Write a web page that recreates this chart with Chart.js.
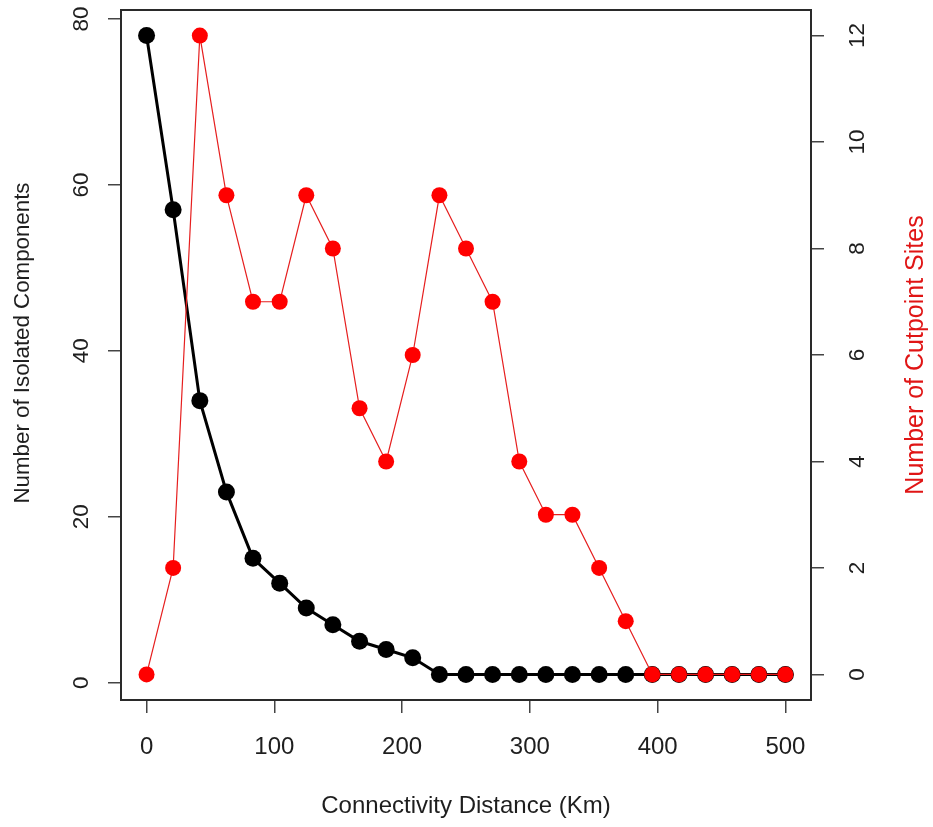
<!DOCTYPE html>
<html>
<head>
<meta charset="utf-8">
<script src="https://cdn.jsdelivr.net/npm/chart.js@4"></script>
<style>
  html, body { margin: 0; padding: 0; background: #fff; }
  #wrap { width: 933px; height: 827px; }
</style>
</head>
<body>
<div id="wrap"><canvas id="netChart" width="933" height="827"></canvas></div>
<script>
// connectivity distance (km) at each step
const distances = [0, 20.8, 41.7, 62.5, 83.3, 104.2, 125, 145.8, 166.7, 187.5, 208.3, 229.2, 250,
                   270.8, 291.7, 312.5, 333.3, 354.2, 375, 395.8, 416.7, 437.5, 458.3, 479.2, 500];
const isolatedComponents = [78, 57, 34, 23, 15, 12, 9, 7, 5, 4, 3, 1, 1, 1, 1, 1, 1, 1, 1, 1, 1, 1, 1, 1, 1];
const cutpointSites = [0, 2, 12, 9, 7, 7, 9, 8, 5, 4, 6, 9, 8, 7, 4, 3, 3, 2, 1, 0, 0, 0, 0, 0, 0];

const xTicks = [0, 100, 200, 300, 400, 500];
const leftTicks = [0, 20, 40, 60, 80];
const rightTicks = [0, 2, 4, 6, 8, 10, 12];

const FONT = '"Liberation Sans", Arial, Helvetica, sans-serif';
const TXT = '#1e1e1e';

const pairs = (ys) => distances.map((d, i) => ({ x: d, y: ys[i] }));
const setTicks = (vals) => (scale) => { scale.ticks = vals.map(v => ({ value: v })); };

// R-style axes: box, rotated y labels, red right-hand title
const baseAxes = {
  id: 'baseAxes',
  afterDraw(chart) {
    const { ctx, chartArea: a, scales } = chart;
    ctx.save();
    ctx.strokeStyle = '#2a2a2a';
    ctx.lineWidth = 2;
    ctx.strokeRect(a.left, a.top, a.right - a.left, a.bottom - a.top);

    ctx.textAlign = 'center';
    ctx.textBaseline = 'middle';
    ctx.fillStyle = TXT;
    ctx.font = '24px ' + FONT;
    scales.x.ticks.forEach(t => ctx.fillText(String(t.value), scales.x.getPixelForValue(t.value), 747));
    ctx.fillText('Connectivity Distance (Km)', (a.left + a.right) / 2, 806);

    const rotated = (txt, x, y, color, size) => {
      ctx.save();
      ctx.translate(x, y);
      ctx.rotate(-Math.PI / 2);
      ctx.font = size + 'px ' + FONT;
      ctx.fillStyle = color;
      ctx.fillText(txt, 0, 0);
      ctx.restore();
    };
    scales.y.ticks.forEach(t => rotated(String(t.value), 82, scales.y.getPixelForValue(t.value), TXT, 22.5));
    scales.y2.ticks.forEach(t => rotated(String(t.value), 858, scales.y2.getPixelForValue(t.value), TXT, 22.5));

    rotated('Number of Isolated Components', 23, 343, TXT, 22.3);
    rotated('Number of Cutpoint Sites', 916, 355, '#e01515', 25);
    ctx.restore();
  }
};

const tickGrid = { drawOnChartArea: false, drawTicks: true, tickLength: 13, color: '#444', lineWidth: 1.5 };

new Chart(document.getElementById('netChart'), {
  type: 'line',
  data: {
    datasets: [
      {
        label: 'Number of Cutpoint Sites',
        data: pairs(cutpointSites),
        yAxisID: 'y2',
        borderColor: '#e61e1e',
        borderWidth: 1.2,
        backgroundColor: '#ff0000',
        pointBackgroundColor: '#ff0000',
        pointBorderWidth: 0,
        pointRadius: 8,
        tension: 0,
        order: 1
      },
      {
        label: 'Number of Isolated Components',
        data: pairs(isolatedComponents),
        yAxisID: 'y',
        borderColor: '#000',
        borderWidth: 3,
        backgroundColor: '#000',
        pointBackgroundColor: '#000',
        pointBorderWidth: 0,
        pointRadius: 8.5,
        tension: 0,
        order: 2
      }
    ]
  },
  options: {
    responsive: false,
    animation: false,
    layout: { padding: { top: 10, left: 0, right: 0, bottom: 0 } },
    plugins: { legend: { display: false }, tooltip: { enabled: false } },
    scales: {
      x: {
        type: 'linear',
        min: -20,
        max: 520,
        afterBuildTicks: setTicks(xTicks),
        afterFit: (s) => { s.height = 127; },
        ticks: { display: false },
        grid: tickGrid,
        border: { display: false }
      },
      y: {
        position: 'left',
        min: -2.08,
        max: 81.08,
        afterBuildTicks: setTicks(leftTicks),
        afterFit: (s) => { s.width = 121; },
        ticks: { display: false },
        grid: tickGrid,
        border: { display: false }
      },
      y2: {
        position: 'right',
        min: -0.48,
        max: 12.48,
        afterBuildTicks: setTicks(rightTicks),
        afterFit: (s) => { s.width = 122; },
        ticks: { display: false },
        grid: tickGrid,
        border: { display: false }
      }
    }
  },
  plugins: [baseAxes]
});
</script>
</body>
</html>
